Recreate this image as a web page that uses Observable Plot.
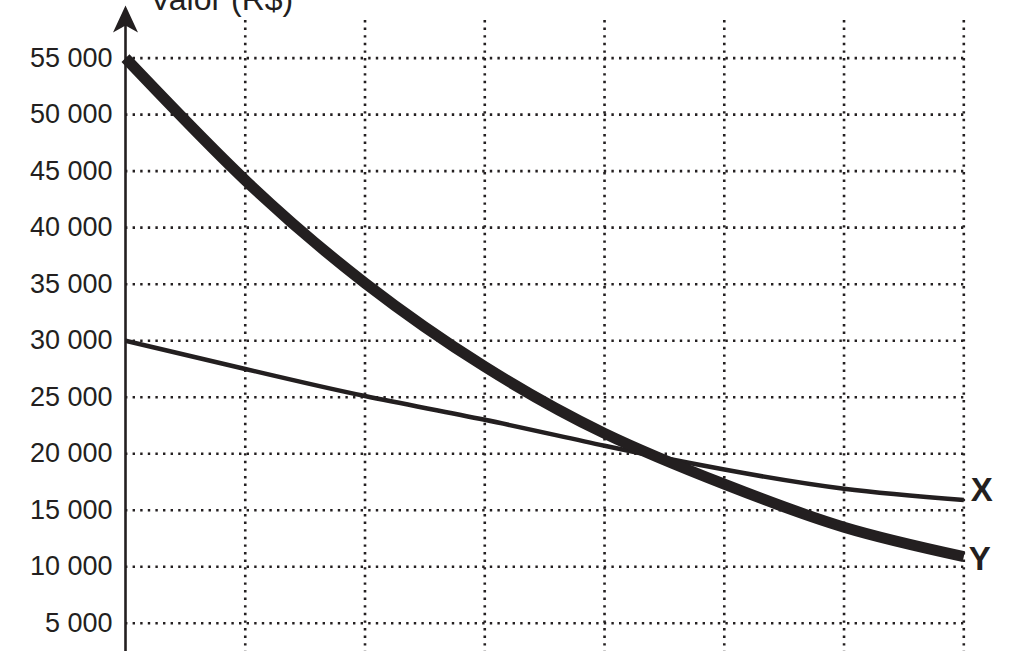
<!DOCTYPE html>
<html>
<head>
<meta charset="utf-8">
<script src="https://cdn.jsdelivr.net/npm/d3@7"></script>
<script src="https://cdn.jsdelivr.net/npm/@observablehq/plot@0.6"></script>
<style>
  html, body { margin: 0; padding: 0; background: #fff; }
  #chart { width: 1009px; height: 651px; overflow: hidden; }
</style>
</head>
<body>
<div id="chart"></div>
<script>
// ---- data ----
const years = [0, 1, 2, 3, 4, 5, 6, 7];
const valueX = [30000, 27500, 25100, 23000, 20700, 18600, 16900, 15900];
const valueY = [55000, 44200, 35100, 27700, 21800, 17300, 13500, 10900];
const yTicks = [5000, 10000, 15000, 20000, 25000, 30000, 35000, 40000, 45000, 50000, 55000];
const xTicks = [1, 2, 3, 4, 5, 6, 7];
const seriesNames = ["X", "Y"];
const axisLabel = "Valor (R$)";

const ink = "#231f20";
const font = "'Liberation Sans', Arial, Helvetica, sans-serif";
const fmt = d3.formatLocale({thousands: " ", grouping: [3], decimal: ","}).format(",");

const rowsX = years.map((t, i) => ({t, v: valueX[i], s: seriesNames[0]}));
const rowsY = years.map((t, i) => ({t, v: valueY[i], s: seriesNames[1]}));
const endX = [rowsX[rowsX.length - 1]];
const endY = [rowsY[rowsY.length - 1]];

// filled arrowhead symbol for the y axis
const arrowHead = {
  draw(ctx) {
    ctx.moveTo(0, -13);
    ctx.lineTo(12.5, 14);
    ctx.lineTo(0, 7);
    ctx.lineTo(-12.5, 14);
    ctx.closePath();
  }
};

const gridStyle = {stroke: ink, strokeOpacity: 1, strokeWidth: 2.6, strokeDasharray: "2.4,5.2"};

const plot = Plot.plot({
  width: 1009,
  height: 651,
  marginLeft: 125,
  marginRight: 45.7,
  marginTop: 0,
  marginBottom: 0,
  style: {fontFamily: font, color: ink, background: "#fff", overflow: "visible"},
  x: {domain: [0, 7], axis: null},
  y: {domain: [2500, 60100], axis: null},
  marks: [
    Plot.gridY(yTicks, gridStyle),
    Plot.gridX(xTicks, {...gridStyle, insetTop: 20}),
    Plot.axisY(yTicks, {tickSize: 0, tickPadding: 13, fontSize: 27, tickFormat: fmt, fill: ink, label: null}),
    Plot.ruleX([0], {stroke: ink, strokeWidth: 2.6, insetTop: 24}),
    Plot.dot([0], {x: d => d, frameAnchor: "top", dy: 18, symbol: arrowHead, fill: ink, stroke: "none", r: 5}),
    Plot.text([axisLabel], {frameAnchor: "top-left", dx: 96, dy: 9, lineAnchor: "bottom", textAnchor: "middle", fontSize: 32, fill: ink}),
    Plot.line(rowsX, {x: "t", y: "v", stroke: ink, strokeWidth: 4.5, curve: "natural", strokeLinecap: "butt"}),
    Plot.line(rowsY, {x: "t", y: "v", stroke: ink, strokeWidth: 11, curve: "natural", strokeLinecap: "butt"}),
    Plot.text(endX, {x: "t", y: "v", text: "s", textAnchor: "start", dx: 7, dy: -10, fontSize: 33, fontWeight: "bold", fill: ink}),
    Plot.text(endY, {x: "t", y: "v", text: "s", textAnchor: "start", dx: 5, dy: 3, fontSize: 33, fontWeight: "bold", fill: ink})
  ]
});
document.getElementById("chart").appendChild(plot);
</script>
</body>
</html>
